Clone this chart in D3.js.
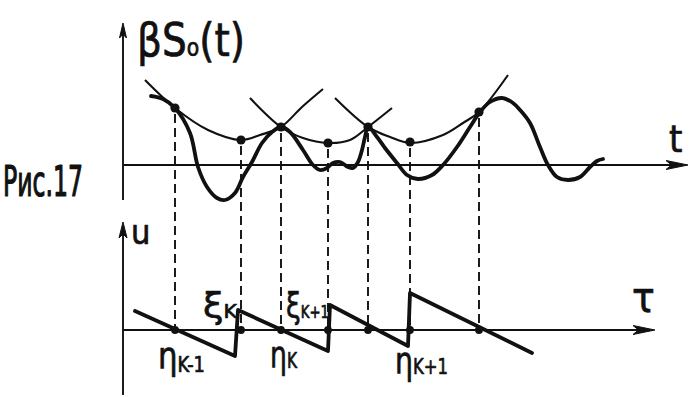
<!DOCTYPE html>
<html><head><meta charset="utf-8">
<script src="https://cdn.jsdelivr.net/npm/d3@7"></script>
<style>html,body{margin:0;padding:0;background:#fff;overflow:hidden}</style>
</head><body>
<svg id="fig" width="690" height="397"></svg>
<script>
// Signal βS0(t): points along the thick curve (t, value)
const sigT = [2.8, 4.0, 5.2, 6.7, 7.5, 8.4, 9.4, 10.2, 11.2, 12.0, 12.9, 13.9, 14.9, 15.8,
              16.7, 18.0, 19.0, 19.7, 20.4, 21.0, 21.7, 22.5, 23.0, 23.5, 23.9, 24.2, 24.5,
              25.4, 26.2, 27.4, 28.4, 29.5, 30.9, 32.0, 33.4, 34.7, 35.7, 36.7, 37.9, 39.0,
              39.7, 40.7, 41.7, 42.5, 43.4, 44.5, 45.7, 46.7, 47.4, 48.0];
const sigV = [6.9, 6.6, 5.7, 3.2, -0.2, -2.2, -3.3, -3.5, -2.8, -1.2, 0.3, 2.2, 3.3, 3.8,
              3.3, 1.5, 0.0, -0.5, -0.3, 0.2, 0.3, -0.2, -0.3, 0.3, 1.5, 2.8, 3.8,
              2.8, 1.7, 0.2, -1.0, -1.4, -1.0, 0.0, 1.8, 3.8, 5.3, 6.3, 6.7, 6.2,
              5.5, 4.2, 1.8, 0.0, -1.2, -1.5, -1.2, -0.2, 0.4, 0.6];

// Marked points on the envelope parabolas
const dotT = [5.2, 11.8, 15.8, 20.5, 24.5, 28.7, 35.6];
const dotV = [5.7, 2.5, 3.8, 2.2, 3.8, 2.3, 5.3];

// Envelope parabolas (thin curves)
const par1T = [2.2, 5.2, 8.5, 11.8, 13.7, 15.8, 17.9, 20.0];
const par1V = [8.5, 5.7, 3.5, 2.5, 3.0, 3.8, 5.8, 7.6];
const par2T = [12.7, 15.8, 18.0, 20.5, 22.7, 24.5, 26.9];
const par2V = [6.7, 3.8, 2.7, 2.2, 2.5, 3.8, 5.7];
const par3T = [21.2, 24.5, 26.7, 28.7, 32.0, 34.0, 35.6, 38.5];
const par3V = [6.7, 3.8, 2.8, 2.2, 3.0, 4.2, 5.3, 9.0];

// Sawtooth u(τ): vertices (τ, u)
const sawT = [1.2, 11.2, 11.5, 20.5, 20.7, 28.5, 28.7, 40.9];
const sawU = [1.9, -2.6, 2.0, -2.1, 2.5, -1.6, 3.7, -2.3];

// Axis extents (in data units)
const tMax = 56.5, tauMax = 53.2;

const svg = d3.select("#fig");
const x = d3.scaleLinear().domain([0, 56.5]).range([123, 688]);
const yTop = d3.scaleLinear().domain([-3.5, 14.2]).range([200, 23]);
const yBot = d3.scaleLinear().domain([-6.5, 10.8]).range([395, 222]);

const ink = "#111";

function arrowHead(tipX, tipY, dir, len, half) {
  let p;
  if (dir === "up") p = `M${tipX},${tipY} L${tipX - half},${tipY + len} L${tipX},${tipY + len * 0.75} L${tipX + half},${tipY + len} Z`;
  else p = `M${tipX},${tipY} L${tipX - len},${tipY - half} L${tipX - len * 0.75},${tipY} L${tipX - len},${tipY + half} Z`;
  svg.append("path").attr("d", p).attr("fill", ink).attr("stroke", ink).attr("stroke-width", 1);
}

// ---- axes ----
const axis = svg.append("g").attr("stroke", ink).attr("stroke-width", 1.9).attr("fill", "none");
// top panel
axis.append("line").attr("x1", x(0)).attr("y1", yTop(-3.5)).attr("x2", x(0)).attr("y2", yTop(14.2) + 4);
axis.append("line").attr("x1", x(0)).attr("y1", yTop(0)).attr("x2", x(tMax) - 6).attr("y2", yTop(0));
arrowHead(x(0), yTop(14.2), "up", 15, 3.5);
arrowHead(x(tMax), yTop(0), "right", 22, 4.5);
// bottom panel
axis.append("line").attr("x1", x(0)).attr("y1", yBot(-6.5)).attr("x2", x(0)).attr("y2", yBot(10.8) + 4);
axis.append("line").attr("x1", x(0)).attr("y1", yBot(0)).attr("x2", x(tauMax) - 6).attr("y2", yBot(0));
arrowHead(x(0), yBot(10.8), "up", 16, 4);
arrowHead(x(tauMax), yBot(0), "right", 22, 4.5);

// ---- dashed projections ----
svg.append("g").selectAll("line").data(dotT.map((t, i) => ({t, v: dotV[i]}))).join("line")
  .attr("x1", d => x(d.t)).attr("y1", d => yTop(d.v) + 6)
  .attr("x2", d => x(d.t)).attr("y2", yBot(0))
  .attr("stroke", ink).attr("stroke-width", 1.9).attr("stroke-dasharray", "9,5");

const smooth = d3.line().x(d => x(d[0])).curve(d3.curveCatmullRom.alpha(0.5));

// ---- envelope parabolas ----
[[par1T, par1V], [par2T, par2V], [par3T, par3V]].forEach(([T, V]) => {
  svg.append("path")
    .attr("d", smooth.y(d => yTop(d[1]))(T.map((t, i) => [t, V[i]])))
    .attr("fill", "none").attr("stroke", ink).attr("stroke-width", 2.1);
});

// ---- signal ----
svg.append("path")
  .attr("d", smooth.y(d => yTop(d[1]))(sigT.map((t, i) => [t, sigV[i]])))
  .attr("fill", "none").attr("stroke", ink).attr("stroke-width", 3.8)
  .attr("stroke-linecap", "round").attr("stroke-linejoin", "round");

// ---- marked points ----
svg.append("g").selectAll("circle").data(dotT.map((t, i) => ({t, v: dotV[i]}))).join("circle")
  .attr("cx", d => x(d.t)).attr("cy", d => yTop(d.v)).attr("r", 4.6).attr("fill", ink);

// ---- sawtooth ----
svg.append("path")
  .attr("d", d3.line().x(d => x(d[0])).y(d => yBot(d[1]))(sawT.map((t, i) => [t, sawU[i]])))
  .attr("fill", "none").attr("stroke", ink).attr("stroke-width", 3.8)
  .attr("stroke-linecap", "round").attr("stroke-linejoin", "round");

svg.append("g").selectAll("circle").data(dotT).join("circle")
  .attr("cx", d => x(d)).attr("cy", yBot(0)).attr("r", 3.9).attr("fill", ink);

// ---- text ----
const font = "'DejaVu Sans Condensed', 'DejaVu Sans', sans-serif";
function label(px, py, size, parts, opts = {}) {
  const t = svg.append("text").attr("x", px).attr("y", py)
    .attr("font-family", font).attr("font-size", size).attr("fill", ink)
    .attr("stroke", ink).attr("stroke-width", opts.sw || 0.7).attr("stroke-linejoin", "round");
  if (opts.len) t.attr("textLength", opts.len).attr("lengthAdjust", "spacingAndGlyphs");
  parts.forEach(p => {
    const s = t.append("tspan").text(p.s);
    if (p.size) s.attr("font-size", p.size);
    if (p.dy) s.attr("dy", p.dy);
  });
  return t;
}

label(137, 56, 46, [{s: "βS"}, {s: "o", size: 24}, {s: "(t)"}], {len: 108});
label(669, 152, 38, [{s: "t"}]);
label(3, 196, 42, [{s: "Рис.17"}], {len: 80, sw: 1.2});
label(131, 244, 34, [{s: "u"}]);
label(632, 312, 42, [{s: "τ"}]);

label(203, 318, 36, [{s: "ξ"}, {s: "K", size: 20}], {len: 34});
label(286, 318, 36, [{s: "ξ"}, {s: "K+1", size: 18}], {len: 43});
label(158, 369, 38, [{s: "η"}, {s: "K-1", size: 22, dy: 3}], {len: 47});
label(270, 368, 38, [{s: "η"}, {s: "K", size: 22}], {len: 27});
label(395, 374, 38, [{s: "η"}, {s: "K+1", size: 22}], {len: 53});
</script>
</body></html>
